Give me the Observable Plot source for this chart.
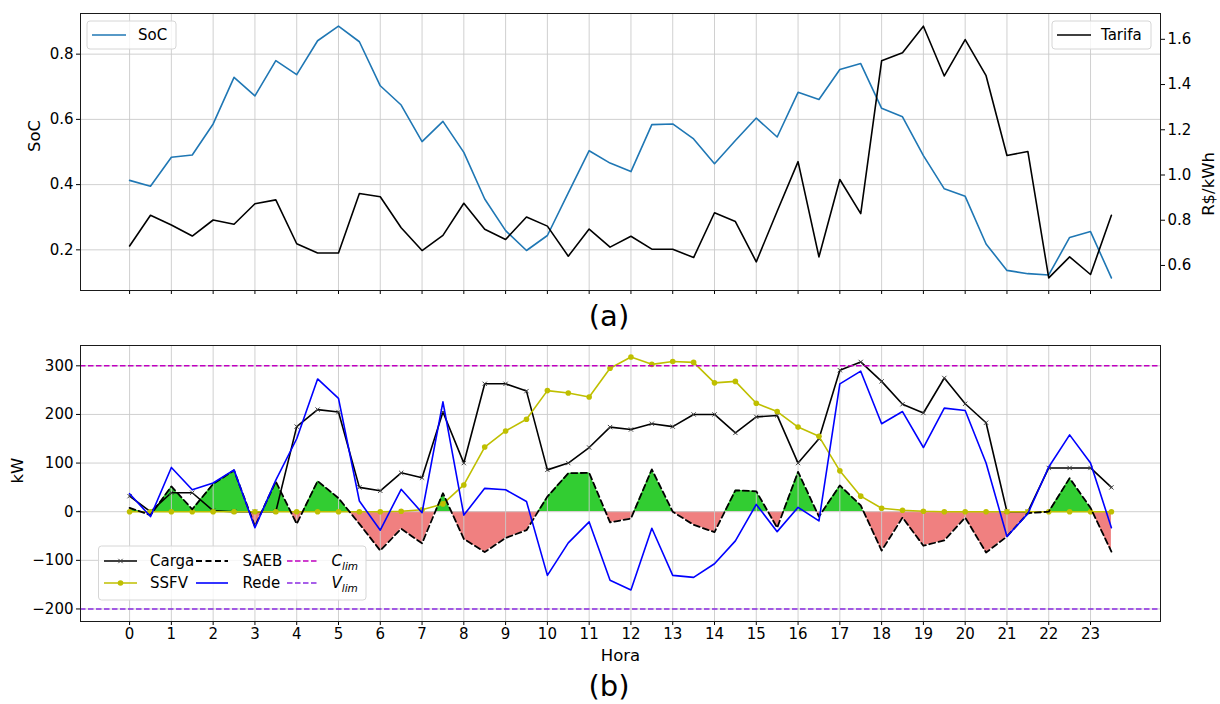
<!DOCTYPE html>
<html>
<head>
<meta charset="utf-8">
<script src="https://cdn.jsdelivr.net/npm/d3@7"></script>
<script src="https://cdn.jsdelivr.net/npm/@observablehq/plot@0.6"></script>
<style>
  body { margin: 0; background: #fff; }
  #fig { position: relative; width: 1220px; height: 704px; overflow: hidden; font-family: "DejaVu Sans", sans-serif; background: #fff; }
  .cap { position: absolute; left: 0; width: 1218px; text-align: center; font-size: 29px; line-height: 30px; color: #000; }
</style>
</head>
<body>
<div id="fig">
  <div class="cap" style="top:301px">(a)</div>
  <div class="cap" style="top:671px">(b)</div>
</div>
<script>
// ---------------- data ----------------
const hora = [0,0.5,1,1.5,2,2.5,3,3.5,4,4.5,5,5.5,6,6.5,7,7.5,8,8.5,9,9.5,10,10.5,11,11.5,
              12,12.5,13,13.5,14,14.5,15,15.5,16,16.5,17,17.5,18,18.5,19,19.5,20,20.5,21,21.5,22,22.5,23,23.5];
const tickHoras = [0,1,2,3,4,5,6,7,8,9,10,11,12,13,14,15,16,17,18,19,20,21,22,23];

const soc = [0.413,0.395,0.484,0.491,0.586,0.729,0.672,0.780,0.737,0.841,0.886,0.838,0.703,0.644,0.532,0.594,
             0.499,0.356,0.259,0.198,0.244,0.375,0.504,0.466,0.440,0.584,0.586,0.540,0.464,0.535,0.604,0.546,
             0.683,0.661,0.753,0.771,0.634,0.608,0.489,0.387,0.364,0.218,0.137,0.127,0.123,0.238,0.256,0.114];
const tarifa = [0.686,0.822,0.779,0.730,0.801,0.782,0.873,0.890,0.696,0.655,0.655,0.918,0.904,0.767,0.666,0.733,
                0.875,0.760,0.715,0.814,0.774,0.641,0.761,0.681,0.729,0.672,0.672,0.635,0.833,0.794,0.616,0.840,
                1.059,0.638,0.980,0.829,1.505,1.541,1.658,1.438,1.599,1.439,1.086,1.104,0.545,0.638,0.560,0.822];

const carga = [32,0,39,39,2,0,0,0,175,210,205,50,43,80,70,205,100,263,263,248,86,100,132,174,
               169,181,175,200,200,162,195,198,100,150,291,308,268,221,203,275,222,183,0,0,90,90,90,50];
const ssfv  = [0,0,0,0,0,0,0,0,0,0,0,0,0,1,4,16,55,133,166,190,249,244,236,295,
               318,303,309,307,265,268,223,206,174,155,84,32,7,3,1,0,0,0,0,0,0,0,0,0];
const saeb  = [8,-7,52,5,57,85,-30,62,-25,63,28,-25,-80,-35,-65,38,-56,-83,-54,-38,31,79,80,-22,
               -14,87,0,-27,-42,44,42,-33,82,-10,54,13,-80,-12,-70,-59,-12,-84,-51,-3,0,69,8,-82];
const rede  = [37,-10,91,45,59,86,-33,65,150,273,233,22,-38,46,-2,226,-7,48,45,21,-131,-64,-21,-141,
               -161,-34,-131,-135,-107,-60,15,-41,9,-19,263,289,181,206,132,213,208,100,-51,-4,92,158,100,-33];

const ticksSoC = [0.2,0.4,0.6,0.8];
const ticksTarifa = [0.6,0.8,1.0,1.2,1.4,1.6];
const ticksKW = [-200,-100,0,100,200,300];
const cLim = [300];
const vLim = [-200];

// ---------------- styles ----------------
const GRID = {stroke: "#cbcbcb", strokeOpacity: 1, strokeWidth: 0.9};
const FRAME = {stroke: "#1a1a1a", strokeWidth: 1};
const xDom = [-1.175, 24.675];
const fig = document.getElementById("fig");
const common = {
  width: 1220, marginLeft: 80, marginRight: 60,
  style: {background: "none", fontFamily: "DejaVu Sans, sans-serif", fontSize: "15px", color: "black", overflow: "visible"}
};
function place(svg, top) {
  svg.style.position = "absolute";
  svg.style.left = "0px";
  svg.style.top = top + "px";
  fig.appendChild(svg);
}

// ---------------- panel (a) ----------------
const topData = hora.map((h, i) => ({h, soc: soc[i], tarifa: tarifa[i]}));

const pSoC = Plot.plot({
  ...common, height: 300, marginTop: 13, marginBottom: 10,
  x: {domain: xDom, label: null},
  y: {domain: [0.0754, 0.9246], label: null},
  marks: [
    Plot.gridX(tickHoras, GRID),
    Plot.gridY(ticksSoC, GRID),
    Plot.lineY(topData, {x: "h", y: "soc", stroke: "#1f77b4", strokeWidth: 1.6}),
    Plot.axisX(tickHoras, {tickSize: 4, tickFormat: () => "", label: null}),
    Plot.axisY(ticksSoC, {tickSize: 4, tickPadding: 3, tickFormat: d => d.toFixed(1), label: null}),
    Plot.frame(FRAME),
    Plot.text(["SoC"], {text: d => d, frameAnchor: "left", dx: -46, rotate: -90, fontSize: 16.5})
  ]
});
place(pSoC, 0);

const pTar = Plot.plot({
  ...common, height: 300, marginTop: 13, marginBottom: 10,
  x: {domain: xDom, label: null, axis: null},
  y: {domain: [0.4893, 1.7141], label: null},
  marks: [
    Plot.lineY(topData, {x: "h", y: "tarifa", stroke: "black", strokeWidth: 1.6}),
    Plot.axisY(ticksTarifa, {anchor: "right", tickSize: 4, tickPadding: 3, tickFormat: d => d.toFixed(1), label: null}),
    Plot.text(["R$/kWh"], {text: d => d, frameAnchor: "right", dx: 48, rotate: -90, fontSize: 16.5})
  ]
});
place(pTar, 0);

// ---------------- panel (b) ----------------
const botData = hora.map((h, i) => ({h, carga: carga[i], ssfv: ssfv[i], saeb: saeb[i], rede: rede[i]}));

const pB = Plot.plot({
  ...common, height: 345, marginTop: 15, marginBottom: 54,
  x: {domain: xDom, label: null},
  y: {domain: [-225.8, 341.8], label: null},
  marks: [
    Plot.areaY(botData, {x: "h", y1: 0, y2: "saeb", fill: "url(#saebSign)"}),
    Plot.gridX(tickHoras, GRID),
    Plot.gridY(ticksKW, GRID),
    Plot.lineY(botData, {x: "h", y: "carga", stroke: "black", strokeWidth: 1.6}),
    Plot.dot(botData, {x: "h", y: "carga", symbol: "times", r: 2.1, stroke: "#444", strokeWidth: 1}),
    Plot.lineY(botData, {x: "h", y: "ssfv", stroke: "#bfbf00", strokeWidth: 1.6}),
    Plot.dot(botData, {x: "h", y: "ssfv", r: 2.8, fill: "#bfbf00"}),
    Plot.lineY(botData, {x: "h", y: "saeb", stroke: "black", strokeWidth: 1.8, strokeDasharray: "6,3.5"}),
    Plot.lineY(botData, {x: "h", y: "rede", stroke: "#0000ff", strokeWidth: 1.6}),
    Plot.ruleY(cLim, {stroke: "#c000c0", strokeWidth: 1.5, strokeDasharray: "5.5,2.5"}),
    Plot.ruleY(vLim, {stroke: "#8a2be2", strokeWidth: 1.5, strokeDasharray: "5.5,2.5"}),
    Plot.axisX(tickHoras, {tickSize: 4, tickPadding: 3, label: null}),
    Plot.axisY(ticksKW, {tickSize: 4, tickPadding: 3, label: null}),
    Plot.frame(FRAME),
    Plot.text(["kW"], {text: d => d, frameAnchor: "left", dx: -63, rotate: -90, fontSize: 16.5}),
    Plot.text(["Hora"], {text: d => d, frameAnchor: "bottom", dy: 39, fontSize: 16.5})
  ]
});
{
  const y0 = pB.scale("y").apply(0);
  const H = 345;
  const defs = document.createElementNS("http://www.w3.org/2000/svg", "defs");
  defs.innerHTML = `<linearGradient id="saebSign" gradientUnits="userSpaceOnUse" x1="0" y1="0" x2="0" y2="${H}">
    <stop offset="${y0 / H}" stop-color="#32cd32"/><stop offset="${y0 / H}" stop-color="#f08080"/></linearGradient>`;
  pB.insertBefore(defs, pB.firstChild);
}
place(pB, 330);

// ---------------- legends ----------------
const ov = d3.select(fig).append("svg")
  .attr("width", 1220).attr("height", 704)
  .style("position", "absolute").style("left", "0px").style("top", "0px")
  .style("font-family", "DejaVu Sans, sans-serif").style("font-size", "15px");

function box(x, y, w, h) {
  ov.append("rect").attr("x", x).attr("y", y).attr("width", w).attr("height", h).attr("rx", 3)
    .attr("fill", "white").attr("fill-opacity", 0.8).attr("stroke", "#d6d6d6").attr("stroke-width", 1);
}
function swatch(x1, x2, y, color, dash, width) {
  ov.append("line").attr("x1", x1).attr("x2", x2).attr("y1", y).attr("y2", y)
    .attr("stroke", color).attr("stroke-width", width || 1.6).attr("stroke-dasharray", dash || null);
}
function label(x, y, t) {
  return ov.append("text").attr("x", x).attr("y", y).attr("dy", "0.35em").attr("fill", "black").text(t);
}
function limLabel(x, y, letter) {
  const t = ov.append("text").attr("x", x).attr("y", y).attr("dy", "0.35em").attr("fill", "black").attr("font-style", "italic");
  t.append("tspan").text(letter);
  t.append("tspan").attr("font-size", "10.5px").attr("dy", "3.5").text("lim");
}

// SoC legend
box(87, 21, 89, 28);
swatch(92, 126, 35, "#1f77b4");
label(138, 35, "SoC");

// Tarifa legend
box(1052, 21, 99, 28);
swatch(1057, 1091, 35, "black");
label(1101, 35, "Tarifa");

// panel (b) legend
box(98.5, 546, 267.5, 54);
const r1 = 561, r2 = 583;
swatch(104, 137, r1, "black");
ov.append("path").attr("d", d3.symbol(d3.symbolTimes, 14)()).attr("transform", `translate(120.5,${r1})`)
  .attr("stroke", "#444").attr("stroke-width", 1);
label(150, r1, "Carga");
swatch(196, 228, r1, "black", "6,3.5", 1.8);
label(242.5, r1, "SAEB");
swatch(287, 319, r1, "#c000c0", "5.5,2.5", 1.5);
limLabel(331.5, r1, "C");

swatch(104, 137, r2, "#bfbf00");
ov.append("circle").attr("cx", 120.5).attr("cy", r2).attr("r", 2.8).attr("fill", "#bfbf00");
label(150, r2, "SSFV");
swatch(196, 228, r2, "#0000ff");
label(242.5, r2, "Rede");
swatch(287, 319, r2, "#8a2be2", "5.5,2.5", 1.5);
limLabel(331.5, r2, "V");
</script>
</body>
</html>
